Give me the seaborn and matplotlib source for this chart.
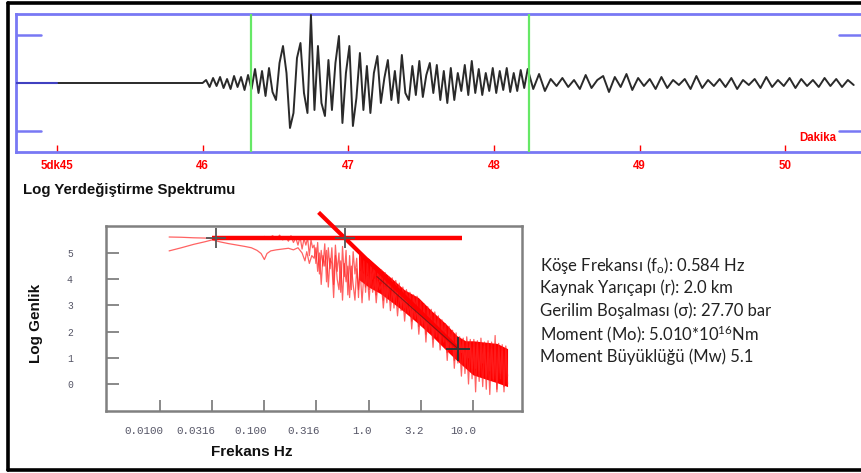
import numpy as np
import pandas as pd
import matplotlib
matplotlib.use("Agg")
import matplotlib.pyplot as plt
import matplotlib.transforms as mtransforms
from matplotlib.lines import Line2D
import seaborn as sns

# ---------------- data ----------------
# seismogram (minutes, amplitude in counts; blue reference ticks at +/-48)
time_ticks = [45, 46, 47, 48, 49, 50]
time_labels = ["5dk45", "46", "47", "48", "49", "50"]
pick_times = [46.33, 48.24]
wave_main_start, wave_main_dt = 46.0, 0.024
wave_main = [0, 3, -4, 5, -3, 6, -5, 4, -6, 7, -4, 6, -7, 8,
             -6, 14, -10, 12, -13, 15, -9, -17, 20, 37, 10, -45, -30, 25,
             40, -10, -30, 68, -27, 37, -20, -33, 23, -27, 20, 47, -40, 10,
             37, -43, -15, 30, -27, 17, -30, 10, 27, -20, 5, 23, -17, 12,
             -20, 28, -10, -17, 17, -12, 22, -14, 8, 20, -10, 18, -17, 12,
             -20, 15, -17, 10, -8, 18, -12, 22, -10, 14, -12, 10, -8, 15,
             -10, 12, -7, 15, -9, 10, -8, 13, -5, 14]
wave_tail_start, wave_tail_dt = 48.27, 0.04
wave_tail = [-6, 9, -8, 4, -3, 5, -4, 3, -6, 8, -5, 3, 7, -9, 6, -4, 9, -7,
             5, -3, 4, -6, 6, -5, 3, -2, 4, -6, 7, -5, 3, -3, 4, -4, 5, -6,
             3, -2, 4, -5, 6, -4, 3, -3, 5, -5, 4, -3, 3, -4, 5, -3, 4, -4, 3, -2]

# displacement spectrum (Hz, log amplitude)
curve_a_f = [0.0122, 0.016, 0.021, 0.027, 0.0316, 0.038, 0.045, 0.052, 0.06, 0.068,
             0.075, 0.082, 0.09, 0.1, 0.11, 0.12, 0.13, 0.14, 0.15, 0.16, 0.17,
             0.18, 0.19, 0.2, 0.21, 0.22, 0.23, 0.24, 0.25, 0.26, 0.27, 0.28, 0.29]
curve_a_v = [5.61, 5.6, 5.58, 5.57, 5.55, 5.56, 5.55, 5.58, 5.56, 5.6,
             5.57, 5.62, 5.56, 5.63, 5.55, 5.66, 5.52, 5.68, 5.5, 5.62, 5.45,
             5.66, 5.4, 5.58, 5.3, 5.62, 5.15, 5.55, 5.3, 5.58, 4.9, 5.5, 5.2]
curve_b_f = [0.0122, 0.016, 0.021, 0.027, 0.0316, 0.038, 0.045, 0.055, 0.065, 0.075,
             0.085, 0.093, 0.1, 0.106, 0.115, 0.13, 0.15, 0.17, 0.19, 0.21, 0.23,
             0.245, 0.255, 0.27, 0.285]
curve_b_v = [5.08, 5.2, 5.33, 5.43, 5.5, 5.42, 5.36, 5.3, 5.25, 5.2,
             5.1, 4.98, 4.75, 4.98, 5.08, 5.12, 5.15, 5.18, 5.12, 5.2, 5.0,
             4.7, 5.05, 4.6, 4.9]
noise_f_range = (0.3, 21.5)
trace1_v = [5.3, 4.6, 5.4, 4.2, 5.1, 4.5, 5.35, 3.9, 5.2, 4.4,
            5.2, 3.8, 5.3, 4.3, 5.0, 3.5, 5.25, 4.1, 5.1, 3.4,
            4.9, 3.6, 5.05, 4.2, 4.8, 3.3, 4.9, 3.9, 4.7, 3.5,
            4.7, 3.6, 4.6, 4.0, 4.55, 3.4, 4.4, 3.9, 4.35, 3.2,
            4.25, 3.3, 4.1, 3.6, 4.05, 2.9, 3.95, 3.4, 3.85, 2.8,
            3.7, 2.9, 3.6, 3.1, 3.5, 2.4, 3.4, 2.9, 3.35, 2.2,
            3.15, 2.3, 3.05, 1.9, 2.95, 2.4, 2.85, 1.7, 2.75, 2.0,
            2.6, 1.6, 2.45, 1.9, 2.3, 1.2, 2.2, 1.6, 2.05, 0.9,
            1.95, 0.8, 1.8, 1.2, 1.75, 0.4, 1.8, 1.0, 1.7, 0.2,
            1.7, 0.6, 1.65, 0.1, 1.75, 0.8, 1.6, -0.2, 1.65, 0.5,
            1.6, 0.2, 1.85, -0.3, 1.55, 0.4, 1.5, -0.1, 1.45, 0.3]
trace2_v = [4.8, 5.2, 4.3, 5.0, 3.8, 4.9, 4.5, 5.1, 3.7, 4.8,
            4.6, 3.3, 4.9, 4.0, 3.6, 4.7, 3.2, 4.6, 3.9, 4.5,
            3.3, 4.5, 3.8, 3.2, 4.4, 3.6, 4.3, 3.1, 4.2, 3.7,
            4.1, 3.2, 4.2, 3.5, 4.0, 3.1, 3.9, 3.6, 3.8, 2.9,
            3.7, 3.1, 3.8, 2.8, 3.6, 3.2, 3.5, 2.6, 3.4, 3.0,
            3.3, 2.4, 3.2, 2.7, 3.1, 2.1, 3.0, 2.5, 2.9, 1.9,
            2.8, 2.2, 2.7, 1.6, 2.6, 2.0, 2.5, 1.4, 2.4, 1.8,
            2.3, 1.3, 2.2, 1.6, 2.0, 0.9, 1.9, 1.3, 1.8, 0.6,
            1.6, 1.0, 1.5, 0.3, 1.6, 0.8, 1.4, 0.0, 1.5, 0.6,
            1.4, -0.3, 1.5, 0.5, 1.3, -0.1, 1.45, 0.3, 1.2, -0.4,
            1.35, 0.1, 1.3, -0.2, 1.4, 0.2, 1.25, -0.3, 1.3, 0.0]
band_f = [0.8, 1.0, 1.3, 1.7, 2.2, 3.0, 4.0, 5.5, 7.0, 8.5, 10.0, 13.0, 17.0, 21.5]
band_top = [4.95, 4.8, 4.4, 4.0, 3.6, 3.3, 2.8, 2.3, 1.85, 1.65, 1.65, 1.6, 1.55, 1.35]
band_bot = [4.0, 3.7, 3.45, 3.1, 2.75, 2.3, 1.85, 1.3, 0.9, 0.6, 0.35, 0.2, 0.05, -0.1]
plateau_f = [0.0316, 7.8]
plateau_v = [5.58, 5.58]
fit_f = [0.331, 7.18]
fit_v = [6.55, 1.35]
cross_f = [0.034, 0.587, 7.18]
cross_v = [5.57, 5.57, 1.35]
spec_xticks = [0.01, 0.0316, 0.1, 0.316, 1.0, 3.2, 10.0]
spec_xlabels = ["0.0100", "0.0316", "0.100", "0.316", "1.0", "3.2", "10.0"]
spec_yticks = [0, 1, 2, 3, 4, 5]

info_lines = ["Köşe Frekansı (f$\\mathregular{_o}$): 0.584 Hz",
              "Kaynak Yarıçapı (r): 2.0 km",
              "Gerilim Boşalması (σ): 27.70 bar",
              "Moment (Mo): 5.010*10$\\mathregular{^{16}}$Nm",
              "Moment Büyüklüğü (Mw) 5.1"]

# ---------------- style ----------------
sns.set_theme(style="white")
plt.rcParams["font.family"] = ["Liberation Sans", "DejaVu Sans"]
W, H = 862, 473
fig = plt.figure(figsize=(W / 100, H / 100), dpi=100)
fig.patch.set_facecolor("white")

BLUE = "#7878f4"
RED = "#ff0000"

# ---------------- seismogram ----------------
ax1 = fig.add_axes([16 / W, 1 - 152 / H, 846 / W, 138 / H])
ax1.set_facecolor("white")
ax1.set_xlim(44.719, 50.527)
ax1.set_ylim(-69, 69)
for s in ["top", "bottom", "left"]:
    ax1.spines[s].set_color(BLUE)
    ax1.spines[s].set_linewidth(2)
ax1.spines["right"].set_visible(False)

t_main = wave_main_start + wave_main_dt * np.arange(len(wave_main))
t_tail = wave_tail_start + wave_tail_dt * np.arange(len(wave_tail))
wave_df = pd.DataFrame({"t": np.concatenate([[45.0, 46.0], t_main[1:], t_tail]),
                        "a": np.concatenate([[0, 0], wave_main[1:], wave_tail])})
sns.lineplot(data=wave_df, x="t", y="a", ax=ax1, color="#2a2a2a", lw=1.4,
             estimator=None, sort=False, zorder=3)
for pt in pick_times:
    ax1.axvline(pt, color="#66e866", lw=1.6, zorder=4)
ax1.plot([44.719, 45.0], [0, 0], color="#4040c0", lw=1.5, zorder=4)
for yv in (48, -48):
    ax1.plot([44.719, 44.89], [yv, yv], color=BLUE, lw=1.8)
    ax1.plot([50.37, 50.527], [yv, yv], color=BLUE, lw=1.8)
ax1.set_xticks(time_ticks)
ax1.set_xticklabels(time_labels)
ax1.tick_params(axis="x", direction="in", length=5, width=1, colors=RED, pad=6,
                labelsize=8.3, bottom=True, top=False)
for lbl in ax1.get_xticklabels():
    lbl.set_fontweight("bold")
ax1.set_yticks([])
ax1.set_xlabel("")
ax1.set_ylabel("")
ax1.text(50.226, -55, "Dakika", color=RED, fontsize=8.3, fontweight="bold",
         ha="center", va="center")

# ---------------- spectrum ----------------
ax2 = fig.add_axes([106 / W, 1 - 411 / H, 416 / W, 185 / H])
ax2.set_facecolor("white")
ax2.set_xscale("log")
ax2.set_xlim(10 ** -2.519, 10 ** 1.471)
ax2.set_ylim(-1.03, 6.03)
for s in ax2.spines.values():
    s.set_color("#808080")
    s.set_linewidth(1.8)

noise_f = np.geomspace(noise_f_range[0], noise_f_range[1], len(trace1_v))
ax2.fill_between(band_f, band_bot, band_top, color=RED, lw=0, zorder=2)
spec1 = pd.DataFrame({"f": np.concatenate([curve_a_f, noise_f]),
                      "v": np.concatenate([curve_a_v, trace1_v])})
spec2 = pd.DataFrame({"f": np.concatenate([curve_b_f, noise_f]),
                      "v": np.concatenate([curve_b_v, trace2_v])})
sns.lineplot(data=spec1, x="f", y="v", ax=ax2, color="#ff2020", lw=0.9, alpha=0.7,
             estimator=None, sort=False, zorder=3)
sns.lineplot(data=spec2, x="f", y="v", ax=ax2, color="#ff2020", lw=0.9, alpha=0.7,
             estimator=None, sort=False, zorder=3)
ax2.plot(plateau_f, plateau_v, color=RED, lw=3.2, solid_capstyle="butt", zorder=5)
ax2.plot(fit_f, fit_v, color=RED, lw=3.0, solid_capstyle="butt", zorder=5,
         clip_on=False)
ax2.plot([1.2, fit_f[1]], [4.1, fit_v[1]], color="#6a1a1a", lw=0.8, alpha=0.8, zorder=6)
ax2.plot(cross_f[:2], cross_v[:2], ls="none", marker="+", ms=15, mew=1.3,
         color="#555555", zorder=7)
ax2.plot(cross_f[2:], cross_v[2:], ls="none", marker="+", ms=17, mew=1.4,
         color="#333333", zorder=7)

ax2.set_xticks(spec_xticks)
ax2.set_xticklabels(spec_xlabels)
ax2.xaxis.set_minor_locator(matplotlib.ticker.NullLocator())
ax2.set_yticks(spec_yticks)
ax2.set_yticklabels([str(v) for v in spec_yticks])
ax2.tick_params(axis="x", direction="in", length=8, width=1.3, color="#808080",
                pad=11, labelsize=7.8, labelcolor="#555566", bottom=True, top=False)
ax2.tick_params(axis="y", direction="in", length=9, width=1.3, color="#808080",
                pad=26, labelsize=7, labelcolor="#555566", left=True, right=False)
off = mtransforms.ScaledTranslation(3 / 100, 0, fig.dpi_scale_trans)
for lbl in ax2.get_xticklabels():
    lbl.set_fontfamily(["Liberation Mono", "DejaVu Sans Mono"])
    lbl.set_horizontalalignment("right")
    lbl.set_transform(lbl.get_transform() + off)
for lbl in ax2.get_yticklabels():
    lbl.set_fontfamily(["Liberation Mono", "DejaVu Sans Mono"])
    lbl.set_horizontalalignment("center")
ax2.set_xlabel("")
ax2.set_ylabel("")

# ---------------- texts ----------------
fig.text(23 / W, 1 - 190 / H, "Log Yerdeğiştirme Spektrumu", fontsize=10.8,
         fontweight="bold", ha="left", va="center", color="#111111")
fig.text(36 / W, 1 - 323 / H, "Log Genlik", fontsize=11, fontweight="bold",
         rotation=90, ha="center", va="center", color="#111111")
fig.text(252 / W, 1 - 452 / H, "Frekans Hz", fontsize=11, fontweight="bold",
         ha="center", va="center", color="#111111")
for i, line in enumerate(info_lines):
    fig.text(540 / W, 1 - (265 + 23 * i) / H, line, fontsize=12,
             family=["Lato", "DejaVu Sans"], ha="left", va="center", color="#222222")

# ---------------- outer frame ----------------
for xs, ys in [([8, 8], [3, 470]), ([8, W], [3, 3]), ([8, W], [470, 470])]:
    fig.add_artist(Line2D([x / W for x in xs], [1 - y / H for y in ys],
                          transform=fig.transFigure, color="black", lw=2.6))

fig.savefig("out.png", dpi=100)
